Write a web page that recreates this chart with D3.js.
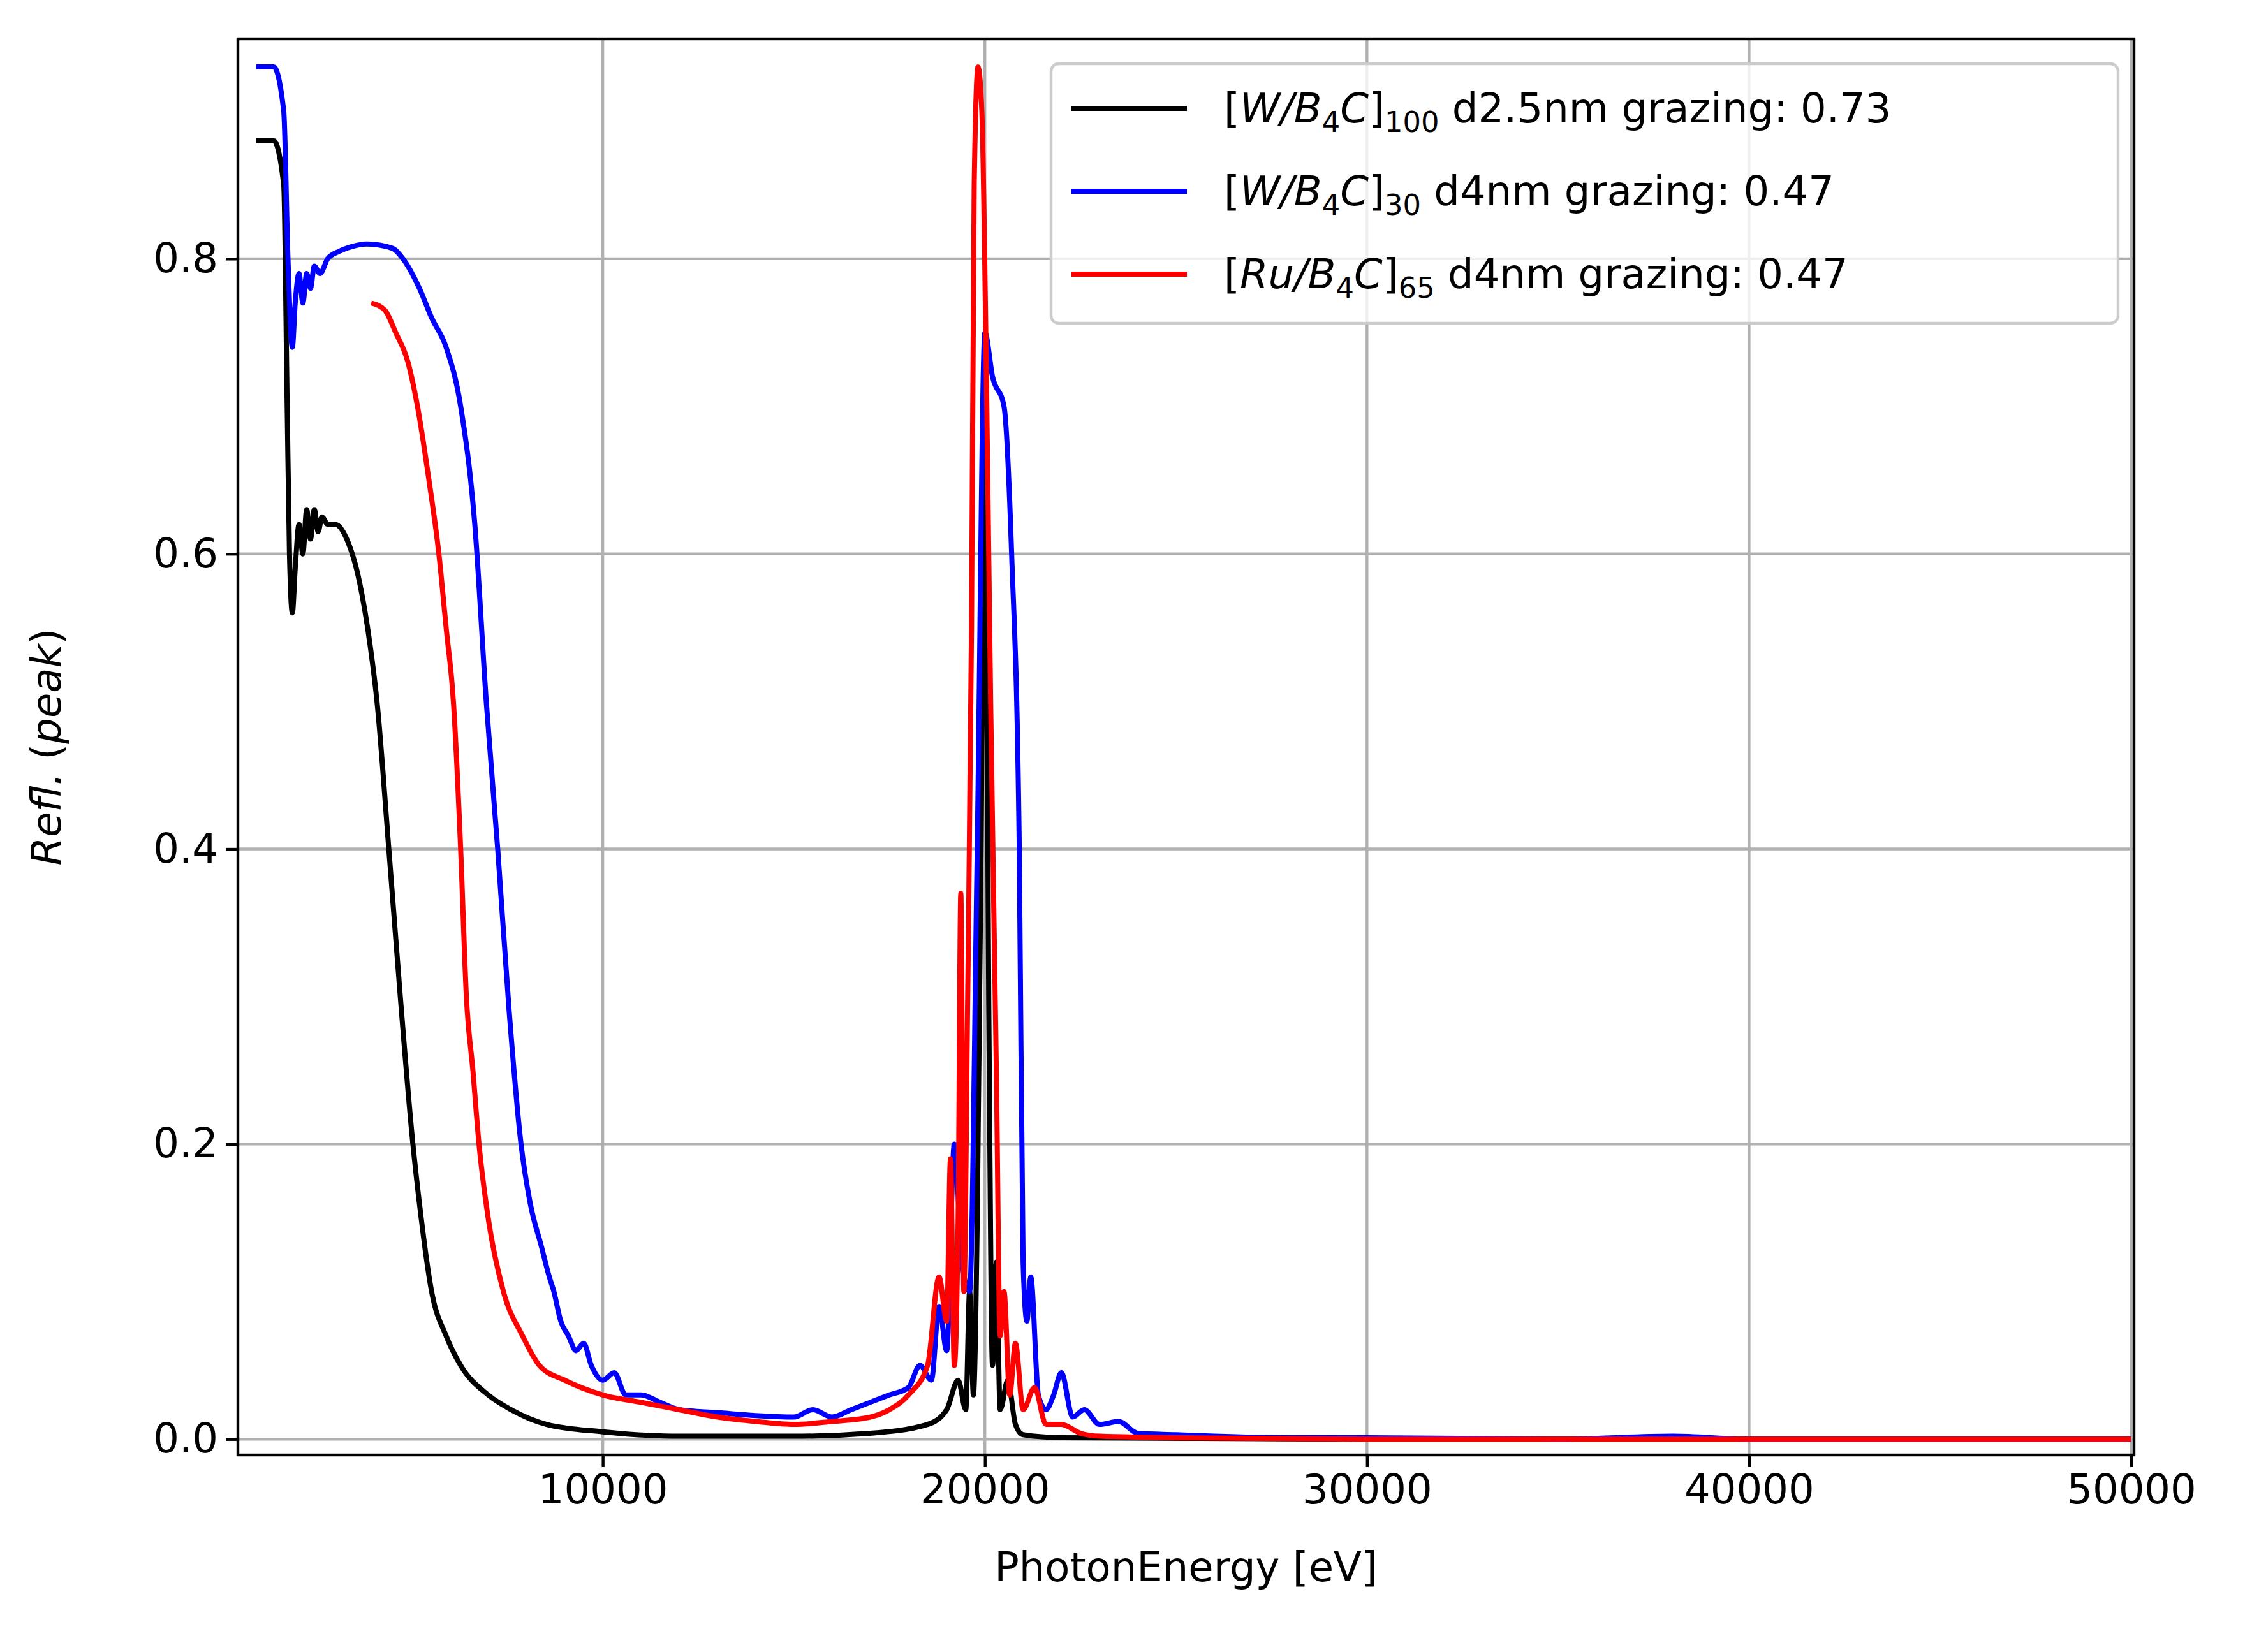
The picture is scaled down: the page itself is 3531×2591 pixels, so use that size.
<!DOCTYPE html>
<html><head><meta charset="utf-8">
<script src="https://cdn.jsdelivr.net/npm/d3@7"></script>
<style>body{margin:0;background:#fff}text{font-family:"DejaVu Sans",sans-serif}</style>
</head><body>
<script>
// PhotonEnergy [eV], Refl.(peak)
const blackE = [930,1385,1650,1740,1800,1875,1950,2050,2150,2250,2350,2450,2550,2650,2800,3000,3300,3640,3900,4090,4400,4700,5030,5200,5520,5900,6280,7000,7600,8530,10000,12000,15000,17000,18500,19000,19300,19500,19600,19700,19800,19900,20000,20100,20200,20300,20400,20600,20800,21000,22000,30000,40000,50000];
const blackR = [0.88,0.88,0.85,0.70,0.60,0.56,0.59,0.62,0.60,0.63,0.61,0.63,0.615,0.625,0.62,0.62,0.61,0.58,0.54,0.50,0.40,0.30,0.20,0.16,0.10,0.07,0.05,0.03,0.02,0.01,0.005,0.002,0.002,0.004,0.01,0.02,0.04,0.02,0.10,0.03,0.15,0.40,0.69,0.30,0.05,0.12,0.02,0.04,0.01,0.003,0.001,0,0,0];
const blueE = [930,1385,1650,1760,1875,1950,2050,2150,2250,2350,2450,2600,2800,3100,3400,3830,4500,4770,5200,5520,5900,6280,6650,6950,7250,7550,7860,8100,8400,8600,8720,8900,9100,9300,9500,9700,10000,10300,10600,11000,11500,12000,13000,14000,15000,15500,16000,16500,17000,17500,18000,18300,18600,18800,19000,19200,19400,19600,19800,20000,20200,20500,20700,20900,21000,21100,21200,21400,21600,21800,22000,22300,22600,23000,23500,24000,25000,26000,28000,30000,35000,38000,40000,45000,50000];
const blueR = [0.93,0.93,0.90,0.80,0.74,0.77,0.79,0.77,0.79,0.78,0.795,0.79,0.80,0.805,0.808,0.81,0.807,0.80,0.78,0.76,0.74,0.70,0.62,0.50,0.40,0.29,0.20,0.16,0.13,0.11,0.10,0.08,0.07,0.06,0.065,0.05,0.04,0.045,0.03,0.03,0.025,0.02,0.018,0.016,0.015,0.02,0.015,0.02,0.025,0.03,0.035,0.05,0.04,0.09,0.06,0.20,0.12,0.10,0.40,0.75,0.72,0.70,0.60,0.40,0.12,0.08,0.11,0.03,0.02,0.03,0.045,0.015,0.02,0.01,0.012,0.004,0.003,0.002,0.001,0.001,0,0.002,0,0,0];
const redE = [3940,4300,4580,4900,5150,5450,5710,5900,6090,6280,6430,6600,6760,7000,7400,7900,8340,9000,10000,11000,12000,13000,14000,15000,16000,17000,17500,18000,18500,18800,19000,19100,19200,19300,19370,19450,19550,19650,19720,19820,19920,20050,20150,20300,20400,20500,20650,20800,21000,21300,21600,22000,22500,23000,25000,30000,40000,50000];
const redR = [0.77,0.765,0.75,0.73,0.70,0.65,0.60,0.55,0.50,0.40,0.30,0.25,0.20,0.15,0.10,0.07,0.05,0.04,0.03,0.025,0.02,0.015,0.012,0.01,0.012,0.015,0.02,0.03,0.05,0.11,0.08,0.19,0.05,0.15,0.37,0.10,0.30,0.55,0.85,0.93,0.90,0.70,0.50,0.25,0.07,0.10,0.03,0.065,0.02,0.035,0.01,0.01,0.004,0.002,0.001,0,0,0];
const series = [
  {E: blackE, R: blackR, color: "#000000", el: "W/B", sub: "100", rest: " d2.5nm grazing: 0.73"},
  {E: blueE, R: blueR, color: "#0000ff", el: "W/B", sub: "30", rest: " d4nm grazing: 0.47"},
  {E: redE, R: redR, color: "#ff0000", el: "Ru/B", sub: "65", rest: " d4nm grazing: 0.47"}
];
const xTicks = [10000, 20000, 30000, 40000, 50000];
const yTicks = [0.0, 0.2, 0.4, 0.6, 0.8];

const W = 3531, H = 2591, m = {l: 373, r: 3346, t: 61, b: 2282};
const fs = 64;
const svg = d3.select("body").append("svg").attr("width", W).attr("height", H);
const x = d3.scaleLinear().domain([450, 50075]).range([m.l, m.r]);
const y = d3.scaleLinear().domain([-0.0107, 0.949]).range([m.b, m.t]);

const g = svg.append("g");
g.selectAll(".gx").data(xTicks).join("line").attr("x1", x).attr("x2", x).attr("y1", m.t).attr("y2", m.b)
  .attr("stroke", "#b0b0b0").attr("stroke-width", 4.4);
g.selectAll(".gy").data(yTicks).join("line").attr("y1", y).attr("y2", y).attr("x1", m.l).attr("x2", m.r)
  .attr("stroke", "#b0b0b0").attr("stroke-width", 4.4);

const line = d3.line().x(d => x(d[0])).y(d => y(d[1])).curve(d3.curveMonotoneX);
svg.append("clipPath").attr("id", "c").append("rect").attr("x", m.l).attr("y", m.t).attr("width", m.r - m.l).attr("height", m.b - m.t);
series.forEach(s => {
  svg.append("path").attr("d", line(s.E.map((e, i) => [e, s.R[i]]))).attr("fill", "none")
    .attr("stroke", s.color).attr("stroke-width", 8).attr("stroke-linejoin", "round").attr("clip-path", "url(#c)");
});

const xa = svg.append("g").attr("transform", `translate(0,${m.b})`)
  .call(d3.axisBottom(x).tickValues(xTicks).tickFormat(d3.format("d")).tickSize(19).tickPadding(12));
const ya = svg.append("g").attr("transform", `translate(${m.l},0)`)
  .call(d3.axisLeft(y).tickValues(yTicks).tickFormat(d3.format(".1f")).tickSize(19).tickPadding(12));
[xa, ya].forEach(a => {
  a.select(".domain").remove();
  a.selectAll("line").attr("stroke-width", 4.4);
  a.selectAll("text").attr("font-size", fs).attr("fill", "#000").attr("font-family", "DejaVu Sans");
});
svg.append("rect").attr("x", m.l).attr("y", m.t).attr("width", m.r - m.l).attr("height", m.b - m.t)
  .attr("fill", "none").attr("stroke", "#000").attr("stroke-width", 4.4);

svg.append("text").attr("x", (m.l + m.r) / 2).attr("y", 2480).attr("text-anchor", "middle").attr("font-size", fs).text("PhotonEnergy [eV]");
const yl = svg.append("text").attr("transform", `translate(95,${(m.t + m.b) / 2}) rotate(-90)`).attr("text-anchor", "middle").attr("font-size", fs);
yl.append("tspan").attr("font-style", "italic").text("Refl.");
yl.append("tspan").text(" (");
yl.append("tspan").attr("font-style", "italic").text("peak");
yl.append("tspan").text(")");

const lg = svg.append("g");
lg.append("rect").attr("x", 1648).attr("y", 100).attr("width", 1673).attr("height", 407).attr("rx", 12)
  .attr("fill", "#fff").attr("fill-opacity", 0.8).attr("stroke", "#cccccc").attr("stroke-width", 4.4);
series.forEach((s, i) => {
  const yy = 170 + i * 130;
  lg.append("line").attr("x1", 1680).attr("x2", 1861).attr("y1", yy).attr("y2", yy).attr("stroke", s.color).attr("stroke-width", 8);
  const t = lg.append("text").attr("x", 1919).attr("y", yy + 22).attr("font-size", fs);
  t.append("tspan").text("[");
  t.append("tspan").attr("font-style", "italic").text(s.el);
  t.append("tspan").attr("font-size", fs * 0.7).attr("dy", 15).text("4");
  t.append("tspan").attr("font-style", "italic").attr("dy", -15).text("C");
  t.append("tspan").text("]");
  t.append("tspan").attr("font-size", fs * 0.7).attr("dy", 15).text(s.sub);
  t.append("tspan").attr("dy", -15).text(s.rest);
});
</script>
</body></html>
